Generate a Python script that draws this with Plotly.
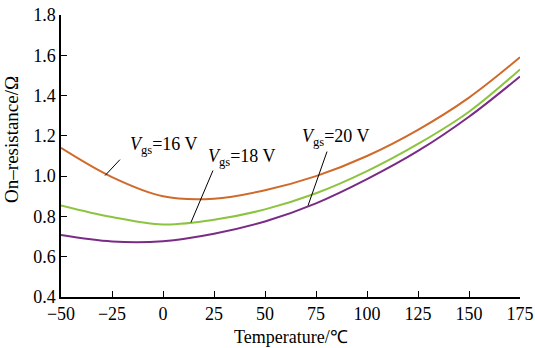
import plotly.graph_objects as go

temps = [-50, -25, 0, 25, 50, 75, 100, 125, 150, 175]
r_16v = [1.14, 0.995, 0.90, 0.888, 0.93, 1.0, 1.10, 1.23, 1.39, 1.59]
r_18v = [0.855, 0.797, 0.76, 0.783, 0.835, 0.915, 1.025, 1.16, 1.32, 1.53]
r_20v = [0.708, 0.676, 0.677, 0.714, 0.775, 0.865, 0.985, 1.125, 1.295, 1.495]

x_ticks = [-50, -25, 0, 25, 50, 75, 100, 125, 150, 175]
x_tick_labels = ["−50", "−25", "0", "25", "50", "75", "100", "125", "150", "175"]
y_ticks = [0.4, 0.6, 0.8, 1.0, 1.2, 1.4, 1.6, 1.8]
y_tick_labels = ["0.4", "0.6", "0.8", "1.0", "1.2", "1.4", "1.6", "1.8"]

series = [
    ("16 V", r_16v, "#D06A2A"),
    ("18 V", r_18v, "#8CC440"),
    ("20 V", r_20v, "#7A2B86"),
]

# label text position and leader line (tail, head) in data coords
labels = [
    ("16", (0.5, 1.15), (-21.1, 1.082), (-28.4, 1.003)),
    ("18", (38.5, 1.092), (24.5, 1.028), (13.7, 0.770)),
    ("20", (84.8, 1.191), (80.4, 1.122), (71.1, 0.854)),
]

FONT = "Liberation Serif, Times New Roman, serif"

fig = go.Figure()
for name, vals, color in series:
    fig.add_trace(go.Scatter(x=temps, y=vals, mode="lines", name=name,
                             line=dict(color=color, width=2, shape="spline", smoothing=1.0)))

for v, (tx, ty), (x0, y0), (x1, y1) in labels:
    fig.add_annotation(x=tx, y=ty, xref="x", yref="y",
                       text=f"<i>V</i><sub>gs</sub>={v} V", showarrow=False,
                       font=dict(family=FONT, size=18, color="black"))
    fig.add_shape(type="line", x0=x0, y0=y0, x1=x1, y1=y1, xref="x", yref="y",
                  line=dict(color="black", width=1))

# axis titles as annotations (pixel offsets from the plot edges)
fig.add_annotation(x=0, y=1.18, xref="paper", yref="y", xanchor="center", yanchor="middle",
                   xshift=-49, text="On–resistance/Ω", textangle=-90, showarrow=False,
                   font=dict(family=FONT, size=19, color="black"))
fig.add_annotation(x=0.5, y=0, xref="paper", yref="paper", xanchor="center", yanchor="middle",
                   yshift=-40, text="Temperature/℃", showarrow=False,
                   font=dict(family=FONT, size=18, color="black"))

fig.update_layout(
    width=535, height=348,
    margin=dict(l=61, r=15, t=15, b=51, autoexpand=False),
    paper_bgcolor="white", plot_bgcolor="white",
    showlegend=False,
    font=dict(family=FONT, size=18, color="black"),
)
fig.update_xaxes(range=[-50, 175], tickvals=x_ticks, ticktext=x_tick_labels,
                 ticks="inside", ticklen=6, tickcolor="black", showline=True,
                 linecolor="black", linewidth=1.5, showgrid=False, zeroline=False,
                 automargin=False)
fig.update_yaxes(range=[0.4, 1.8], tickvals=y_ticks, ticktext=y_tick_labels,
                 ticks="inside", ticklen=6, tickcolor="black", showline=True,
                 linecolor="black", linewidth=1.5, showgrid=False, zeroline=False,
                 automargin=False)

fig.write_html("out.html")
